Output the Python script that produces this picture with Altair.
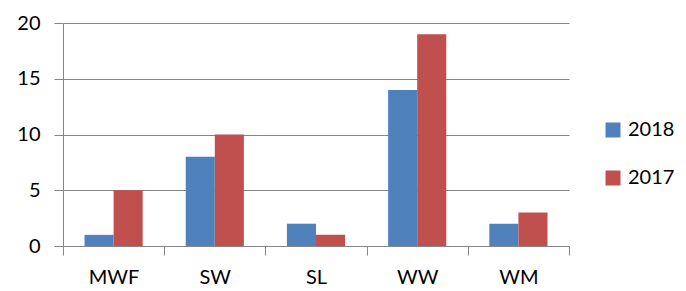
import altair as alt
import pandas as pd

categories = ["MWF", "SW", "SL", "WW", "WM"]
series = ["2018", "2017"]
values_2018 = [1, 8, 2, 14, 2]
values_2017 = [5, 10, 1, 19, 3]
y_ticks = [0, 5, 10, 15, 20]
colors = ["#4F81BD", "#C0504D"]

rows = []
for c, v in zip(categories, values_2018):
    rows.append({"cat": c, "year": "2018", "value": v})
for c, v in zip(categories, values_2017):
    rows.append({"cat": c, "year": "2017", "value": v})
df = pd.DataFrame(rows)

FONT = "Lato"
GRID = "#868686"

chart = alt.Chart(df).mark_bar().encode(
    x=alt.X("cat:N", sort=categories,
            scale=alt.Scale(paddingInner=0, paddingOuter=0),
            axis=alt.Axis(title=None, labelAngle=0, tickBand="extent", grid=False,
                          domainColor=GRID, tickColor=GRID, tickSize=9,
                          labelFont=FONT, labelFontSize=20, labelColor="#000000",
                          labelPadding=12)),
    xOffset=alt.XOffset("year:N", sort=series,
                        scale=alt.Scale(paddingOuter=0.74, paddingInner=0)),
    y=alt.Y("value:Q", scale=alt.Scale(domain=[0, 20]),
            axis=alt.Axis(title=None, values=y_ticks, grid=True, gridColor=GRID,
                          domainColor=GRID, tickColor=GRID, tickSize=9,
                          labelFont=FONT, labelFontSize=20, labelColor="#000000",
                          labelPadding=14)),
    color=alt.Color("year:N", sort=series,
                    scale=alt.Scale(domain=series, range=colors),
                    legend=alt.Legend(title=None, orient="none", legendX=540, legendY=97,
                                      symbolType="square", symbolSize=225,
                                      symbolStrokeWidth=0,
                                      labelFont=FONT, labelFontSize=20, labelColor="#000000",
                                      labelOffset=5, rowPadding=28, padding=0)),
).properties(
    width=506, height=223,
    autosize=alt.AutoSizeParams(type="none"),
    padding={"left": 55, "top": 15, "right": 109, "bottom": 44},
).configure_view(stroke=None)

chart.save("out.html", embed_options={"renderer": "svg", "actions": False})
